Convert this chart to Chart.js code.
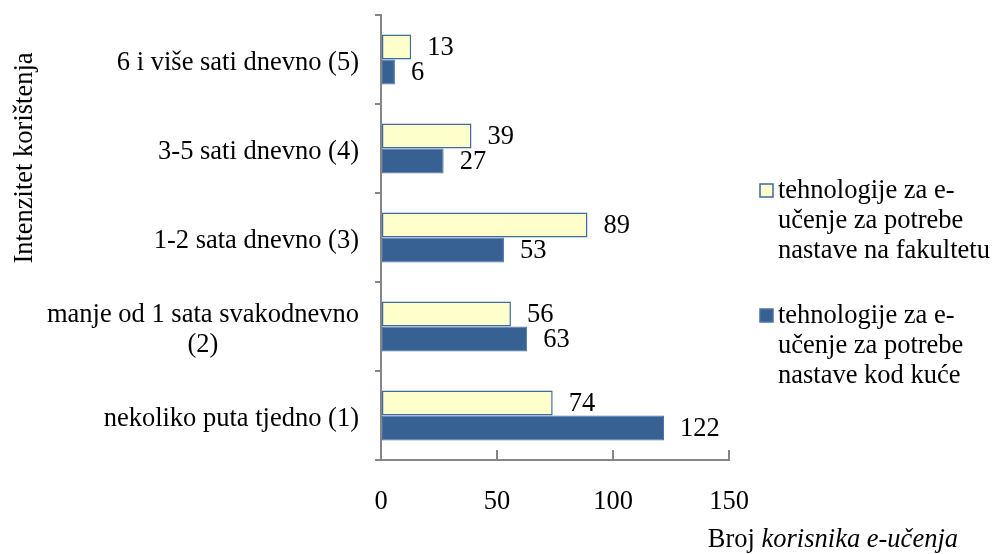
<!DOCTYPE html>
<html>
<head>
<meta charset="utf-8">
<script src="https://cdn.jsdelivr.net/npm/chart.js@4.4.1/dist/chart.umd.min.js"></script>
<style>
  html, body { margin: 0; padding: 0; background: #fff; }
  #wrap { width: 993px; height: 554px; }
</style>
</head>
<body>
<div id="wrap"><canvas id="myChart"></canvas></div>
<script>
// categories, top to bottom as in the picture
const categories = [
    '6 i više sati dnevno (5)',
    '3-5 sati dnevno (4)',
    '1-2 sata dnevno (3)',
    ['manje od 1 sata svakodnevno', '(2)'],
    'nekoliko puta tjedno (1)'
];
const fakultet = [13, 39, 89, 56, 74];
const kuca = [6, 27, 53, 63, 122];
const fakultetName = ['tehnologije za e-', 'učenje za potrebe', 'nastave na fakultetu'];
const kucaName = ['tehnologije za e-', 'učenje za potrebe', 'nastave kod kuće'];
const xTicks = [0, 50, 100, 150];
const yTitle = 'Intenzitet korištenja';
const xTitleNormal = 'Broj ';
const xTitleItalic = 'korisnika e-učenja';

const FONT = "'Liberation Serif', 'Times New Roman', serif";
const FS = 26.5;
const AXIS = '#868686';

// value labels right of each bar
const valueLabels = {
    id: 'valueLabels',
    afterDatasetsDraw(chart) {
        const ctx = chart.ctx;
        ctx.save();
        ctx.font = FS + 'px ' + FONT;
        ctx.fillStyle = '#000';
        ctx.textAlign = 'left';
        ctx.textBaseline = 'middle';
        chart.data.datasets.forEach((ds, i) => {
            chart.getDatasetMeta(i).data.forEach((bar, j) => {
                ctx.fillText(String(ds.data[j]), bar.x + 16, bar.y + 1);
            });
        });
        ctx.restore();
    }
};

// category labels, titles and legend
const extras = {
    id: 'extras',
    afterDraw(chart) {
        const ctx = chart.ctx;
        const ys = chart.scales.y;
        const base = FS + 'px ' + FONT;
        const ital = 'italic ' + FS + 'px ' + FONT;
        ctx.save();
        ctx.fillStyle = '#000';
        ctx.font = base;
        ctx.textBaseline = 'middle';

        // category labels
        const right = ys.right - 22;
        categories.forEach((lab, i) => {
            const lines = Array.isArray(lab) ? lab : [lab];
            const w = Math.max(...lines.map(l => ctx.measureText(l).width));
            const cy = ys.getPixelForTick(i) + 4;
            const lh = 30;
            lines.forEach((l, k) => {
                ctx.textAlign = 'center';
                ctx.fillText(l, right - w / 2, cy + (k - (lines.length - 1) / 2) * lh);
            });
        });

        // y title
        ctx.save();
        ctx.translate(25, 158);
        ctx.rotate(-Math.PI / 2);
        ctx.textAlign = 'center';
        ctx.fillText(yTitle, 0, 0);
        ctx.restore();

        // x title, mixed styles, right aligned
        ctx.textAlign = 'left';
        ctx.font = base;
        const w1 = ctx.measureText(xTitleNormal).width;
        ctx.font = ital;
        const w2 = ctx.measureText(xTitleItalic).width;
        const xr = 958;
        ctx.font = base;
        ctx.fillText(xTitleNormal, xr - w1 - w2, 540);
        ctx.font = ital;
        ctx.fillText(xTitleItalic, xr - w2, 540);

        // legend
        ctx.font = base;
        const items = [[fakultetName, 0, 191], [kucaName, 1, 316]];
        items.forEach(([lines, di, top]) => {
            const ds = chart.data.datasets[di];
            ctx.fillStyle = ds.backgroundColor;
            ctx.fillRect(760, top - 7, 13, 13);
            ctx.strokeStyle = ds.borderColor;
            ctx.lineWidth = 1.5;
            ctx.strokeRect(760, top - 7, 13, 13);
            ctx.fillStyle = '#000';
            lines.forEach((l, k) => ctx.fillText(l, 778, top + k * 30));
        });
        ctx.restore();
    }
};

const ctx = document.getElementById('myChart');

new Chart(ctx, {
    type: 'bar',
    data: {
        labels: categories,
        datasets: [{
            label: fakultetName.join(' '),
            data: fakultet,
            backgroundColor: '#FFFFCC',
            borderColor: '#3F6AA0',
            borderWidth: 1.5,
            borderSkipped: false,
            categoryPercentage: 0.56,
            barPercentage: 1
        }, {
            label: kucaName.join(' '),
            data: kuca,
            backgroundColor: '#386193',
            borderColor: '#4A72A6',
            borderWidth: 1,
            borderSkipped: false,
            categoryPercentage: 0.56,
            barPercentage: 1
        }]
    },
    options: {
        indexAxis: 'y',
        responsive: true,
        maintainAspectRatio: false,
        animation: false,
        layout: { padding: { top: 15, right: 264, bottom: 0, left: 0 } },
        plugins: {
            legend: { display: false },
            tooltip: { enabled: false }
        },
        scales: {
            y: {
                offset: true,
                grid: {
                    drawOnChartArea: false,
                    offset: true,
                    tickLength: 6,
                    color: AXIS,
                    lineWidth: 2
                },
                border: { color: AXIS, width: 2 },
                ticks: { display: false },
                afterFit: s => { s.width = 381; }
            },
            x: {
                min: 0,
                max: 150,
                afterBuildTicks: s => { s.ticks = xTicks.map(v => ({ value: v })); },
                grid: {
                    drawOnChartArea: false,
                    tickLength: -10,
                    color: AXIS,
                    lineWidth: 2
                },
                border: { color: AXIS, width: 2 },
                ticks: {
                    color: '#000',
                    padding: 36,
                    font: { size: FS, family: FONT }
                },
                afterFit: s => { s.height = 94; }
            }
        }
    },
    plugins: [valueLabels, extras]
});
</script>
</body>
</html>
